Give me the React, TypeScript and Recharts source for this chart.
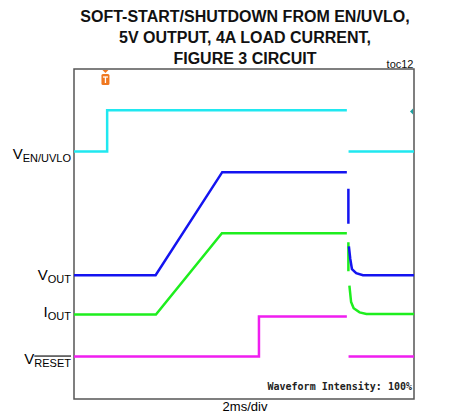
import { LineChart, Line, XAxis, YAxis, ReferenceArea, ReferenceDot } from "recharts";

// time in ms (2ms/div, 10 div), amplitude in screen divisions (8 div)
const enUvlo = [
  { t: 0, v: 6 },
  { t: 1.95, v: 6 },
  { t: 1.95, v: 7 },
  { t: 16.05, v: 7 },
  { t: 16.1, v: null },
  { t: 16.15, v: 6 },
  { t: 20, v: 6 },
];

const vOut = [
  { t: 0, v: 3 },
  { t: 4.8, v: 3 },
  { t: 8.72, v: 5.5 },
  { t: 16.05, v: 5.5 },
  { t: 16.1, v: null },
  { t: 16.14, v: 5.1 },
  { t: 16.14, v: 4.25 },
  { t: 16.15, v: null },
  { t: 16.17, v: 3.7 },
  { t: 16.25, v: 3.4 },
  { t: 16.35, v: 3.15 },
  { t: 16.6, v: 3.05 },
  { t: 17, v: 3.0 },
  { t: 20, v: 3.0 },
];

const iOut = [
  { t: 0, v: 2.05 },
  { t: 4.82, v: 2.05 },
  { t: 8.7, v: 4.02 },
  { t: 16.05, v: 4.02 },
  { t: 16.1, v: null },
  { t: 16.14, v: 3.8 },
  { t: 16.14, v: 3.1 },
  { t: 16.15, v: null },
  { t: 16.2, v: 2.75 },
  { t: 16.3, v: 2.35 },
  { t: 16.45, v: 2.2 },
  { t: 16.8, v: 2.1 },
  { t: 17.2, v: 2.06 },
  { t: 20, v: 2.06 },
];

const vReset = [
  { t: 0, v: 1.03 },
  { t: 10.88, v: 1.03 },
  { t: 10.88, v: 2.0 },
  { t: 16.05, v: 2.0 },
  { t: 16.1, v: null },
  { t: 16.15, v: 1.03 },
  { t: 20, v: 1.03 },
];

const traceLevels = [6, 3, 2.05, 1.03];
const channelNames = [
  { main: "V", sub: "EN/UVLO", bar: false },
  { main: "V", sub: "OUT", bar: false },
  { main: "I", sub: "OUT", bar: false },
  { main: "V", sub: "RESET", bar: true },
];
const channelScales = ["2V/div", "2V/div", "2A/div", "5V/div"];
const titleLines = [
  "SOFT-START/SHUTDOWN FROM EN/UVLO,",
  "5V OUTPUT, 4A LOAD CURRENT,",
  "FIGURE 3 CIRCUIT",
];

const FONT = "'Liberation Sans', Arial, sans-serif";
const leftDy = [7, 5, 3, 7];
const rightDy = [5, 2, 2, 0];

function LeftTick(props: any) {
  const { x, y, index } = props;
  const n = channelNames[index];
  if (!n) return null;
  return (
    <text x={x} y={y + leftDy[index]} textAnchor="end" fontFamily={FONT} fontSize={15} fill="#000">
      {n.main}
      <tspan fontSize={11} dy={3} style={n.bar ? { textDecoration: "overline" } : undefined}>
        {n.sub}
      </tspan>
    </text>
  );
}

function RightTick(props: any) {
  const { x, y, index } = props;
  return (
    <text x={x} y={y + rightDy[index]} textAnchor="start" fontFamily={FONT} fontSize={14} fill="#000">
      {channelScales[index]}
    </text>
  );
}

function BottomTick(props: any) {
  const { x, y } = props;
  return (
    <text x={x + 1} y={y + 10} textAnchor="middle" fontFamily={FONT} fontSize={13} fill="#000">
      2ms/div
    </text>
  );
}

function TriggerMark(props: any) {
  const { cx, cy } = props;
  return (
    <g>
      <polygon points={`${cx - 3},${cy + 1} ${cx + 3},${cy + 1} ${cx},${cy + 4}`} fill="#f07820" />
      <rect x={cx - 4} y={cy + 5} width={8} height={11} rx={1.5} fill="#f07820" />
      <line x1={cx - 2.5} y1={cy + 8} x2={cx + 2.5} y2={cy + 8} stroke="#fff" strokeWidth={1.3} />
      <line x1={cx} y1={cy + 8} x2={cx} y2={cy + 14} stroke="#fff" strokeWidth={1.3} />
    </g>
  );
}

function LevelMark(props: any) {
  const { cx, cy } = props;
  return <polygon points={`${cx - 1},${cy - 3} ${cx - 1},${cy + 3} ${cx - 4},${cy}`} fill="#1ea0a0" />;
}

export default function App() {
  return (
    <div style={{ position: "absolute", left: 0, top: 0, width: 464, height: 417, background: "#fff" }}>
      <LineChart width={464} height={417} margin={{ top: 69, right: 0, bottom: 0, left: 0 }}>
        <XAxis
          dataKey="t"
          type="number"
          domain={[0, 20]}
          ticks={[10]}
          tick={<BottomTick />}
          axisLine={false}
          tickLine={false}
          tickSize={0}
          height={18}
          allowDuplicatedCategory={false}
        />
        <YAxis
          yAxisId="l"
          type="number"
          domain={[0, 8]}
          ticks={traceLevels}
          tick={<LeftTick />}
          axisLine={false}
          tickLine={false}
          tickSize={0}
          tickMargin={3}
          width={74}
          interval={0}
        />
        <YAxis
          yAxisId="r"
          orientation="right"
          type="number"
          domain={[0, 8]}
          ticks={traceLevels}
          tick={<RightTick />}
          axisLine={false}
          tickLine={false}
          tickSize={0}
          tickMargin={5}
          width={50}
          interval={0}
        />
        <ReferenceArea yAxisId="l" x1={0} x2={20} y1={0} y2={8} fill="none" stroke="#555" strokeWidth={1.5} />
        <Line yAxisId="l" data={enUvlo} dataKey="v" stroke="#20e8f0" strokeWidth={2.5} dot={false} activeDot={false} isAnimationActive={false} />
        <Line yAxisId="l" data={vReset} dataKey="v" stroke="#f01ef0" strokeWidth={2.5} dot={false} activeDot={false} isAnimationActive={false} />
        <Line yAxisId="l" data={iOut} dataKey="v" stroke="#1eee1e" strokeWidth={2.5} dot={false} activeDot={false} isAnimationActive={false} />
        <Line yAxisId="l" data={vOut} dataKey="v" stroke="#1414f0" strokeWidth={2.5} dot={false} activeDot={false} isAnimationActive={false} />
        <ReferenceDot yAxisId="l" x={1.85} y={8} r={0} shape={<TriggerMark />} />
        <ReferenceDot yAxisId="l" x={20} y={6.97} r={0} shape={<LevelMark />} />
      </LineChart>
      <svg width={464} height={417} style={{ position: "absolute", left: 0, top: 0, pointerEvents: "none" }}>
        {titleLines.map((s, i) => (
          <text key={s} x={245} y={22 + i * 21} textAnchor="middle" fontFamily={FONT} fontWeight="bold" fontSize={16} fill="#111">
            {s}
          </text>
        ))}
        <text x={413.5} y={67.5} textAnchor="end" fontFamily={FONT} fontSize={11} fill="#111">
          toc12
        </text>
        <text x={412} y={390} textAnchor="end" fontFamily="'DejaVu Sans Mono', monospace" fontWeight="bold" fontSize={10} fill="#222">
          Waveform Intensity: 100%
        </text>
      </svg>
    </div>
  );
}
